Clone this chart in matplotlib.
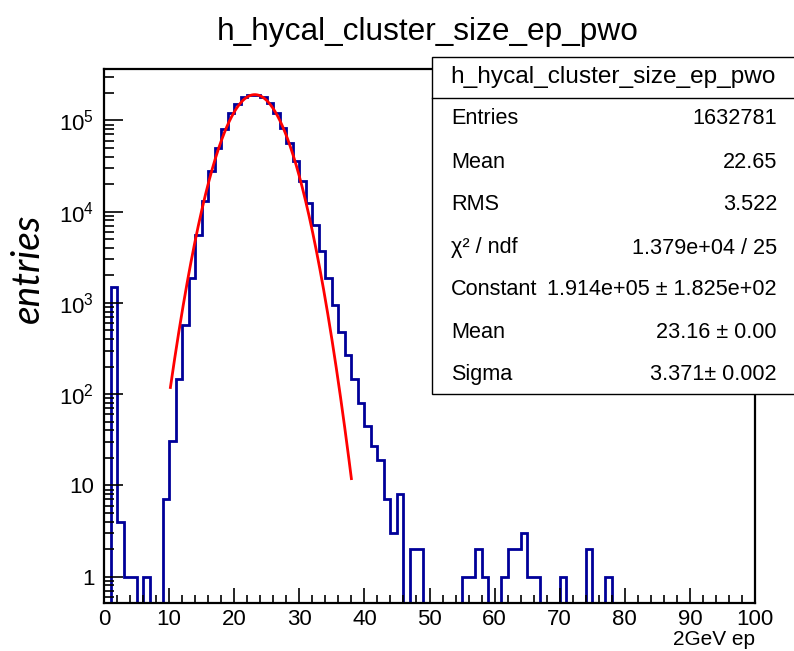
import numpy as np
import matplotlib
matplotlib.use('agg')
import matplotlib.pyplot as plt
import matplotlib.patches as mpatches
from matplotlib.ticker import FixedLocator, NullFormatter

plt.rcParams['font.family'] = ['Liberation Sans', 'DejaVu Sans']
plt.rcParams['mathtext.fontset'] = 'custom'
plt.rcParams['mathtext.rm'] = 'Liberation Sans'

# histogram: 100 bins of width 1 from 0 to 100
bin_edges = np.arange(0, 101)
counts = [0, 1480, 4, 1, 1, 0, 1, 0, 0, 7,
          31, 148, 570, 1860, 5500, 13200, 27900, 50000, 81000, 121000,
          150000, 178000, 188000, 191000, 178000, 156000, 121000, 83000, 57000, 35600,
          21500, 12500, 7100, 3690, 1860, 955, 482, 266, 148, 80,
          45, 27, 19, 7, 3, 8, 0, 2, 2, 0,
          0, 0, 0, 0, 0, 1, 1, 2, 1, 0,
          0, 1, 2, 2, 3, 1, 1, 0, 0, 0,
          1, 0, 0, 0, 2, 0, 0, 1, 0, 0,
          0, 0, 0, 0, 0, 0, 0, 0, 0, 0,
          0, 0, 0, 0, 0, 0, 0, 0, 0, 0]

# gaussian fit parameters (from stats box) and fit range
fit_const = 1.914e5
fit_mean = 23.16
fit_sigma = 3.371
fit_range = (10.2, 38.0)

stat_names = ['Entries', 'Mean', 'RMS', '\u03c7\u00b2 / ndf', 'Constant', 'Mean', 'Sigma']
stat_values = ['1632781', '22.65', '3.522', '1.379e+04 / 25',
               '1.914e+05 \u00b1 1.825e+02', '23.16 \u00b1 0.00', '3.371\u00b1 0.002']

W, H = 794, 651
YMIN, YMAX = 0.52, 3.7e5


def fx(px):
    return px / W


def fy(py):
    return 1 - py / H


def main():
    fig = plt.figure(figsize=(W / 100, H / 100), dpi=100)
    ax = fig.add_axes([fx(104), fy(602.5), fx(755) - fx(104), fy(68.5) - fy(602.5)])

    vals = np.array(counts, dtype=float)
    vals = np.where(vals > 0, vals, YMIN)
    ax.stairs(vals, bin_edges, baseline=YMIN, color='#000099', lw=2.0)

    xs = np.linspace(fit_range[0], fit_range[1], 300)
    ax.plot(xs, fit_const * np.exp(-0.5 * ((xs - fit_mean) / fit_sigma) ** 2),
            color='#ff0000', lw=2.0)

    ax.set_yscale('log')
    ax.set_xlim(0, 100)
    ax.set_ylim(YMIN, YMAX)

    ax.set_xticks(np.arange(0, 101, 10))
    ax.set_xticks(np.arange(0, 101, 2), minor=True)
    majors = [1, 10, 100, 1e3, 1e4, 1e5]
    ax.yaxis.set_major_locator(FixedLocator(majors))
    ax.set_yticklabels(['1', '10', '$10^{2}$', '$10^{3}$', '$10^{4}$', '$10^{5}$'])
    minors = [m * 10.0 ** e for e in range(-1, 6) for m in range(2, 10)]
    minors = [v for v in minors if YMIN < v < YMAX]
    ax.yaxis.set_minor_locator(FixedLocator(minors))
    ax.yaxis.set_minor_formatter(NullFormatter())

    ax.tick_params(axis='x', which='major', direction='in', length=11, width=1.2,
                   labelsize=16, pad=5, top=False)
    ax.tick_params(axis='x', which='minor', direction='in', length=5.5, width=1.2, top=False)
    ax.tick_params(axis='y', which='major', direction='in', length=14, width=1.2,
                   labelsize=16, pad=7, right=False)
    ax.tick_params(axis='y', which='minor', direction='in', length=7, width=1.2, right=False)
    for s in ax.spines.values():
        s.set_linewidth(1.6)

    ax.set_xlabel('2GeV ep', loc='right', fontsize=15, labelpad=0)
    fig.text(fx(28), fy(268), 'entries', rotation=90, ha='center', va='center',
             fontsize=28, style='italic', family=['Lato', 'Open Sans', 'DejaVu Sans'])

    fig.text(fx(428), fy(32), 'h_hycal_cluster_size_ep_pwo', ha='center', va='center',
             fontsize=22.8)

    # stats box
    box = mpatches.Rectangle((fx(432), fy(394)), fx(800) - fx(432), fy(57) - fy(394),
                             transform=fig.transFigure, facecolor='white',
                             edgecolor='black', lw=1.0, zorder=5)
    fig.add_artist(box)
    fig.add_artist(plt.Line2D([fx(432), fx(800)], [fy(97.5), fy(97.5)],
                              transform=fig.transFigure, color='black', lw=1.0, zorder=6))
    fig.text(fx(613), fy(77), 'h_hycal_cluster_size_ep_pwo', ha='center', va='center',
             fontsize=17.6, zorder=7)
    row_y = [119, 162, 205, 248, 290, 332, 375]
    for name, value, y in zip(stat_names, stat_values, row_y):
        fig.text(fx(451), fy(y), name, ha='left', va='center', fontsize=15.6, zorder=7)
        fig.text(fx(777), fy(y), value, ha='right', va='center', fontsize=15.6, zorder=7)

    fig.savefig('out.png', dpi=100)


if __name__ == '__main__':
    main()
